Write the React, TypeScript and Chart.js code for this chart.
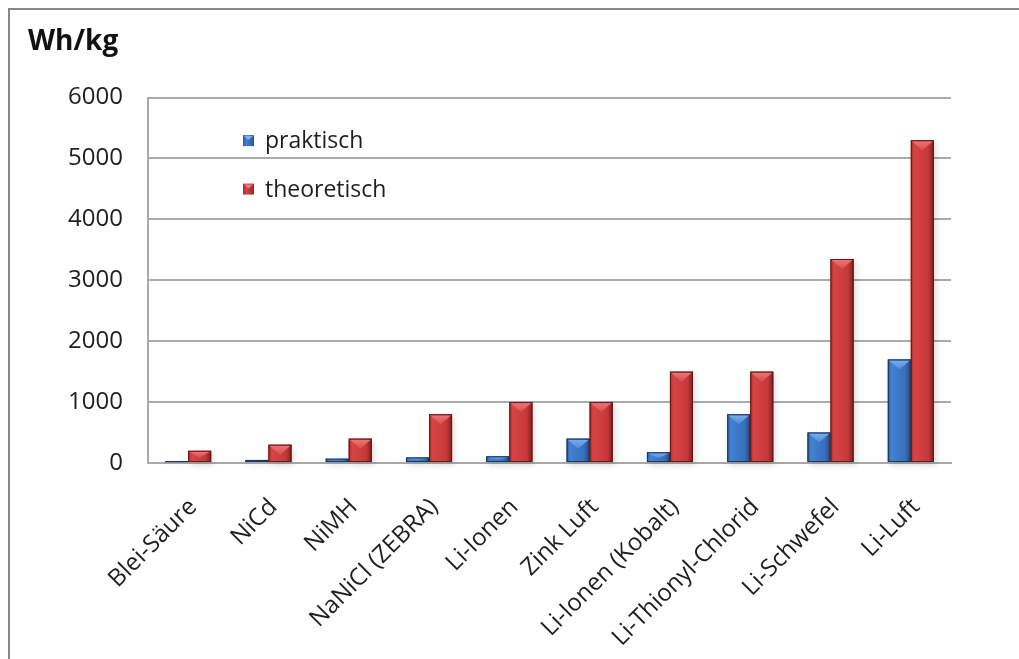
import React, { useEffect, useRef } from 'react';
import { Chart, registerables } from 'chart.js';

Chart.register(...registerables);

const categories = [
  'Blei-Säure',
  'NiCd',
  'NiMH',
  'NaNiCl (ZEBRA)',
  'Li-Ionen',
  'Zink Luft',
  'Li-Ionen (Kobalt)',
  'Li-Thionyl-Chlorid',
  'Li-Schwefel',
  'Li-Luft',
];
const praktisch = [30, 50, 70, 90, 110, 400, 175, 800, 500, 1700];
const theoretisch = [200, 300, 400, 800, 1000, 1000, 1500, 1500, 3350, 5300];
const seriesNames = ['praktisch', 'theoretisch'];
const unitTitle = 'Wh/kg';
const yMin = 0;
const yMax = 6000;
const yStep = 1000;

const FONT = '"Open Sans", "DejaVu Sans", sans-serif';

const palettes = [
  {
    base: '#3b73c0',
    stops: ['#2c5a98', '#4582d2', '#3d78c6', '#3870bb', '#2a5693', '#1d3f70'],
    bevel: ['#7fb0ee', '#4f8bd8'],
    edge: 'rgba(20,45,85,0.85)',
  },
  {
    base: '#c93a3a',
    stops: ['#a52c2c', '#d64545', '#cf3f3f', '#c53939', '#9a2727', '#6e1a1a'],
    bevel: ['#f07878', '#da4d4d'],
    edge: 'rgba(90,20,20,0.85)',
  },
];

const bar3dPlugin = {
  id: 'bar3d',
  beforeDatasetsDraw(chart: any) {
    const ctx = chart.ctx;
    ctx.save();
    chart.data.datasets.forEach((_ds: any, di: number) => {
      const meta = chart.getDatasetMeta(di);
      meta.data.forEach((el: any) => {
        const { x, y, base, width } = el.getProps(['x', 'y', 'base', 'width'], true);
        const left = x - width / 2;
        ctx.shadowColor = 'rgba(0,0,0,0.45)';
        ctx.shadowBlur = 6;
        ctx.shadowOffsetX = 2;
        ctx.shadowOffsetY = 3;
        ctx.fillStyle = 'rgba(0,0,0,0.35)';
        ctx.fillRect(left, y, width, base - y);
      });
    });
    ctx.restore();
  },
  afterDatasetsDraw(chart: any) {
    const ctx = chart.ctx;
    ctx.save();
    chart.data.datasets.forEach((_ds: any, di: number) => {
      const pal = palettes[di];
      const meta = chart.getDatasetMeta(di);
      meta.data.forEach((el: any) => {
        const { x, y, base, width } = el.getProps(['x', 'y', 'base', 'width'], true);
        const left = x - width / 2;
        const h = base - y;
        if (h <= 0) return;
        const g = ctx.createLinearGradient(left, 0, left + width, 0);
        g.addColorStop(0, pal.stops[0]);
        g.addColorStop(0.15, pal.stops[1]);
        g.addColorStop(0.45, pal.stops[2]);
        g.addColorStop(0.75, pal.stops[3]);
        g.addColorStop(0.92, pal.stops[4]);
        g.addColorStop(1, pal.stops[5]);
        ctx.fillStyle = g;
        ctx.fillRect(left, y, width, h);
        const bh = Math.min(10, h * 0.6);
        const bg = ctx.createLinearGradient(0, y, 0, y + bh);
        bg.addColorStop(0, pal.bevel[0]);
        bg.addColorStop(1, pal.bevel[1]);
        ctx.fillStyle = bg;
        ctx.beginPath();
        ctx.moveTo(left + 1, y + 1);
        ctx.lineTo(left + width - 1, y + 1);
        ctx.lineTo(x, y + bh);
        ctx.closePath();
        ctx.fill();
        ctx.strokeStyle = pal.edge;
        ctx.lineWidth = 1;
        ctx.strokeRect(left + 0.5, y + 0.5, width - 1, h - 1);
      });
    });
    ctx.restore();
  },
};

const insideLegendPlugin = {
  id: 'insideLegend',
  afterDraw(chart: any) {
    const { ctx, chartArea } = chart;
    ctx.save();
    chart.data.datasets.forEach((ds: any, i: number) => {
      const pal = palettes[i];
      const cy = chartArea.top + 43 + i * 48.5;
      const mx = chartArea.left + 95;
      const s = 11;
      const g = ctx.createLinearGradient(mx, 0, mx + s, 0);
      g.addColorStop(0, pal.stops[0]);
      g.addColorStop(0.3, pal.stops[1]);
      g.addColorStop(1, pal.stops[4]);
      ctx.fillStyle = g;
      ctx.fillRect(mx, cy - s / 2, s, s);
      ctx.fillStyle = pal.bevel[0];
      ctx.beginPath();
      ctx.moveTo(mx + 1, cy - s / 2 + 1);
      ctx.lineTo(mx + s - 1, cy - s / 2 + 1);
      ctx.lineTo(mx + s / 2, cy - s / 2 + 5);
      ctx.closePath();
      ctx.fill();
      ctx.fillStyle = '#1e1e1e';
      ctx.font = `23px ${FONT}`;
      ctx.textBaseline = 'middle';
      ctx.textAlign = 'left';
      ctx.fillText(ds.label, mx + 22, cy + 1);
    });
    ctx.restore();
  },
};

export default function App() {
  const canvasRef = useRef<HTMLCanvasElement | null>(null);

  useEffect(() => {
    if (!canvasRef.current) return;
    const chart = new Chart(canvasRef.current, {
      type: 'bar',
      data: {
        labels: categories,
        datasets: [
          {
            label: seriesNames[0],
            data: praktisch,
            backgroundColor: palettes[0].base,
            barPercentage: 1,
            categoryPercentage: 0.573,
          },
          {
            label: seriesNames[1],
            data: theoretisch,
            backgroundColor: palettes[1].base,
            barPercentage: 1,
            categoryPercentage: 0.573,
          },
        ],
      },
      options: {
        animation: false,
        responsive: true,
        maintainAspectRatio: false,
        layout: { padding: { left: 18, right: 68, top: 0, bottom: 0 } },
        plugins: {
          legend: { display: false },
          tooltip: { enabled: false },
          title: {
            display: true,
            text: unitTitle,
            align: 'start',
            color: '#111',
            font: { family: FONT, size: 28, weight: 'bold' },
            padding: { top: 15, bottom: 39 },
          },
        },
        scales: {
          x: {
            grid: { display: false, drawTicks: false },
            border: { display: true, color: '#a9a9a9', width: 2 },
            ticks: {
              autoSkip: false,
              maxRotation: 45,
              minRotation: 45,
              padding: 30,
              labelOffset: 5,
              color: '#1e1e1e',
              font: { family: FONT, size: 24 },
            },
            afterFit: (scale: any) => {
              scale.height = 196;
            },
          },
          y: {
            min: yMin,
            max: yMax,
            grid: { color: '#ababab', lineWidth: 2, drawTicks: false },
            border: { display: true, color: '#a9a9a9', width: 2 },
            ticks: {
              stepSize: yStep,
              padding: 25,
              color: '#1e1e1e',
              font: { family: FONT, size: 24 },
              callback: (v: any) => String(v),
            },
            afterFit: (scale: any) => {
              scale.width = 120;
            },
          },
        },
      },
      plugins: [bar3dPlugin, insideLegendPlugin],
    });
    return () => chart.destroy();
  }, []);

  return (
    <div
      style={{
        position: 'fixed',
        left: 8,
        top: 8,
        width: 1011,
        height: 651,
        boxSizing: 'border-box',
        borderTop: '2px solid #878787',
        borderLeft: '2px solid #878787',
        background: '#fff',
      }}
    >
      <div style={{ position: 'relative', width: 1009, height: 649 }}>
        <canvas ref={canvasRef} />
      </div>
    </div>
  );
}
